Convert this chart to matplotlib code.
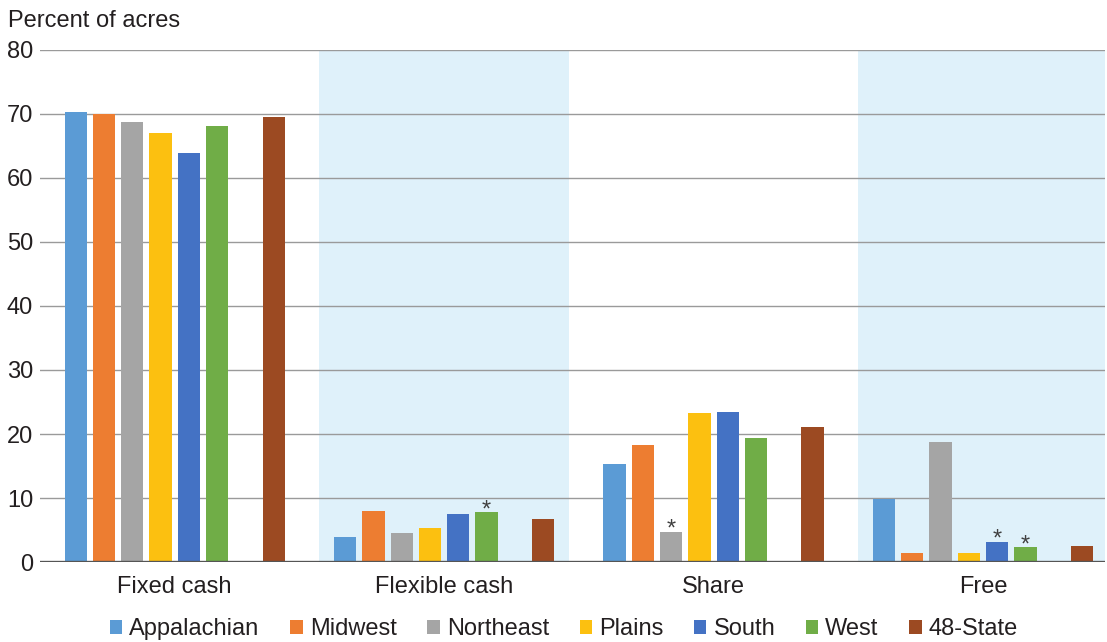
import matplotlib
matplotlib.use("Agg")
from matplotlib import pyplot as plt
from matplotlib.patches import Patch

plt.rcParams['font.family'] = ['Liberation Sans', 'DejaVu Sans']

# Data (percent of acres)
categories = ['Fixed cash', 'Flexible cash', 'Share', 'Free']
regions = ['Appalachian', 'Midwest', 'Northeast', 'Plains', 'South', 'West', '48-State']
appalachian = [70.2, 4.0, 15.3, 9.9]
midwest = [70.0, 8.0, 18.3, 1.5]
northeast = [68.7, 4.5, 4.8, 18.7]
plains = [67.0, 5.4, 23.3, 1.5]
south = [63.9, 7.6, 23.4, 3.2]
west = [68.1, 7.8, 19.4, 2.4]
state48 = [69.4, 6.7, 21.1, 2.6]
values = [appalachian, midwest, northeast, plains, south, west, state48]
# asterisks (region index, category index)
stars = [(5, 1), (2, 2), (4, 3), (5, 3)]

colors = ['#5B9BD5', '#ED7D31', '#A5A5A5', '#FCC010', '#4472C4', '#70AD47', '#9C4A22']
txt_col = '#231F20'
fs = 17

fig = plt.figure(figsize=(11.07, 6.42), dpi=100)
ax = fig.add_axes([40/1107, 1-562.3/642, 1065/1107, (562.3-49.5)/642])

pitch = 0.105							# distance between bars inside a group
width = 0.083
slots = [0, 1, 2, 3, 4, 5, 7]			# slot 6 is left empty
for i in range(len(regions)):
	xs = [c + (slots[i]-3.5)*pitch for c in range(len(categories))]
	ax.bar(xs, values[i], width=width, color=colors[i], zorder=3)

for r, c in stars:
	x = c + (slots[r]-3.5)*pitch
	ax.annotate('*', xy=(x, values[r][c]), xytext=(0, -3), textcoords='offset points',
				ha='center', va='baseline', fontsize=17, color='#404040', zorder=4)

# shaded backgrounds for 2nd and 4th group
for c in [1, 3]:
	ax.axvspan(c-0.465, c+0.465, ymin=0.003, ymax=1, color='#DFF1FA', zorder=0, lw=0)

ax.set_xlim(-0.5, 3.453)
ax.set_ylim(0, 80)
ax.set_yticks(range(0, 81, 10))
ax.yaxis.grid(True, color='#9A9A9A', lw=1.0, zorder=1)
ax.set_axisbelow(False)
ax.axhline(0, color='#555555', lw=2.4, zorder=5)
for s in ax.spines.values():
	s.set_visible(False)
ax.set_xticks(range(len(categories)))
ax.set_xticklabels(categories)
ax.tick_params(axis='both', length=0, labelsize=fs, colors=txt_col)
ax.tick_params(axis='y', pad=5)
ax.tick_params(axis='x', pad=10)

fig.text(8/1107, 1-27/642, 'Percent of acres', fontsize=fs, color=txt_col, ha='left', va='baseline')

handles = [Patch(facecolor=colors[i], label=regions[i]) for i in range(len(regions))]
fig.legend(handles=handles, loc='center', bbox_to_anchor=(564/1107, 1-629/642), ncol=7,
		   frameon=False, fontsize=fs, handlelength=0.52, handleheight=0.52,
		   handletextpad=0.3, columnspacing=1.3, borderpad=0, labelcolor=txt_col)

fig.savefig('out.png', dpi=100)
